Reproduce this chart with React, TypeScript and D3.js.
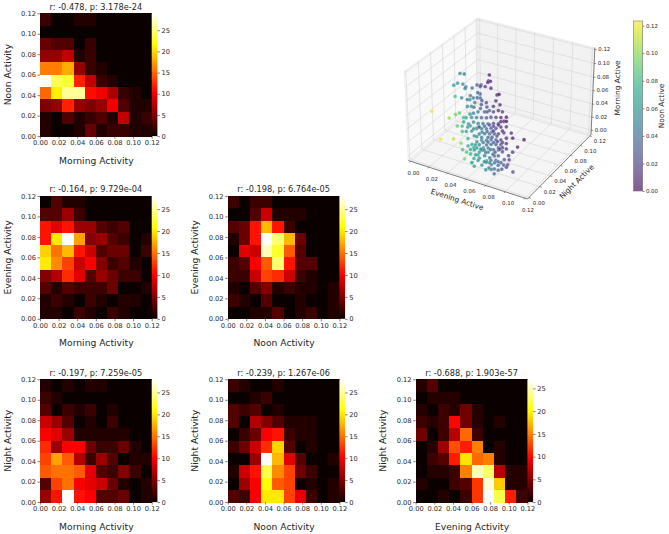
import React, { useEffect, useRef } from "react";
import * as d3 from "d3";

const tickValues = [0, 0.02, 0.04, 0.06, 0.08, 0.1, 0.12];
const countTicks = [0, 5, 10, 15, 20, 25];
const binCount = 10;
const axisMax = 0.12;

const titles = [
  "r: -0.478, p: 3.178e-24",
  "r: -0.164, p: 9.729e-04",
  "r: -0.198, p: 6.764e-05",
  "r: -0.197, p: 7.259e-05",
  "r: -0.239, p: 1.267e-06",
  "r: -0.688, p: 1.903e-57",
];
const xLabels = ["Morning Activity", "Morning Activity", "Noon Activity", "Morning Activity", "Noon Activity", "Evening Activity"];
const yLabels = ["Noon Activity", "Evening Activity", "Evening Activity", "Night Activity", "Night Activity", "Night Activity"];
const maxCounts = [29, 28, 28, 28, 28, 27];

// rows run from the top bin to the bottom bin
const morningNoon = [
  [2, 0, 0, 1, 1, 0, 0, 0, 0, 0],
  [0, 0, 0, 0, 0, 0, 0, 0, 0, 0],
  [4, 3, 3, 0, 2, 0, 0, 0, 0, 0],
  [6, 6, 8, 1, 2, 0, 0, 0, 0, 0],
  [16, 16, 18, 6, 2, 1, 0, 0, 0, 0],
  [29, 24, 23, 12, 8, 2, 1, 0, 0, 0],
  [15, 21, 26, 26, 11, 10, 7, 2, 1, 0],
  [5, 6, 12, 6, 5, 6, 10, 3, 1, 1],
  [1, 0, 3, 1, 2, 3, 1, 8, 1, 2],
  [1, 0, 0, 1, 4, 1, 2, 2, 1, 1],
];
const morningEvening = [
  [0, 3, 1, 1, 0, 0, 0, 0, 0, 0],
  [3, 3, 6, 2, 0, 0, 0, 0, 0, 0],
  [11, 9, 11, 6, 6, 3, 2, 3, 0, 0],
  [11, 20, 28, 17, 5, 6, 3, 2, 0, 1],
  [19, 15, 18, 11, 8, 3, 4, 4, 0, 2],
  [20, 16, 13, 8, 10, 5, 2, 3, 1, 0],
  [5, 7, 12, 9, 3, 6, 4, 2, 2, 0],
  [3, 1, 3, 2, 2, 2, 4, 0, 0, 1],
  [1, 2, 1, 0, 2, 1, 0, 1, 1, 0],
  [1, 1, 0, 2, 1, 0, 2, 1, 0, 0],
];
const noonEvening = [
  [2, 0, 2, 2, 0, 0, 0, 0, 0, 0],
  [0, 0, 3, 8, 1, 1, 1, 0, 0, 0],
  [3, 4, 11, 18, 11, 2, 0, 0, 0, 0],
  [1, 4, 11, 28, 24, 18, 4, 0, 0, 0],
  [0, 9, 8, 26, 22, 14, 3, 0, 0, 0],
  [2, 3, 10, 14, 24, 11, 3, 3, 0, 0],
  [2, 2, 8, 13, 12, 8, 2, 1, 0, 0],
  [1, 0, 3, 5, 1, 2, 1, 1, 0, 1],
  [2, 1, 0, 3, 0, 0, 1, 0, 0, 1],
  [0, 0, 1, 1, 3, 0, 1, 2, 0, 1],
];
const morningNight = [
  [1, 0, 1, 0, 1, 1, 0, 0, 0, 0],
  [2, 1, 0, 0, 0, 0, 0, 0, 0, 0],
  [3, 0, 2, 1, 2, 0, 1, 0, 0, 0],
  [8, 6, 3, 0, 1, 0, 2, 0, 0, 0],
  [10, 9, 6, 1, 1, 1, 1, 1, 0, 0],
  [12, 6, 10, 10, 4, 2, 2, 4, 1, 0],
  [13, 17, 14, 7, 2, 6, 3, 0, 1, 1],
  [14, 15, 15, 14, 9, 3, 2, 5, 2, 0],
  [3, 13, 15, 10, 9, 8, 4, 1, 0, 1],
  [6, 11, 28, 11, 10, 3, 3, 4, 0, 1],
];
const noonNight = [
  [2, 1, 0, 0, 1, 0, 0, 0, 0, 0],
  [0, 0, 1, 2, 0, 0, 0, 0, 0, 0],
  [3, 2, 3, 0, 1, 0, 0, 0, 0, 0],
  [3, 0, 7, 5, 3, 1, 1, 1, 0, 0],
  [0, 2, 4, 10, 11, 2, 1, 1, 0, 0],
  [2, 4, 8, 12, 19, 3, 0, 1, 0, 0],
  [0, 0, 6, 28, 18, 9, 3, 0, 0, 1],
  [1, 8, 11, 23, 16, 13, 4, 2, 0, 0],
  [0, 6, 10, 21, 14, 13, 0, 1, 0, 1],
  [3, 2, 10, 20, 20, 13, 9, 2, 0, 1],
];
const eveningNight = [
  [1, 3, 0, 0, 0, 0, 0, 0, 0, 0],
  [0, 1, 1, 1, 0, 0, 0, 0, 0, 0],
  [1, 0, 2, 1, 4, 1, 0, 0, 0, 0],
  [2, 1, 2, 10, 4, 1, 0, 1, 0, 0],
  [4, 0, 2, 7, 14, 2, 0, 0, 0, 0],
  [0, 1, 6, 13, 11, 15, 0, 1, 0, 0],
  [0, 2, 3, 11, 19, 14, 15, 1, 0, 0],
  [0, 1, 1, 2, 15, 25, 23, 7, 1, 1],
  [1, 0, 0, 2, 3, 12, 26, 18, 1, 1],
  [0, 0, 1, 0, 2, 12, 27, 22, 11, 2],
];
const heatmaps = [morningNoon, morningEvening, noonEvening, morningNight, noonNight, eveningNight];

// scatter values, in thousandths
const eveningActive = [
  16, 20, 41, 46, 48, 47, 24, 29, 23, 34, 35, 40, 41, 44, 45, 49, 55, 52, 49, 46,
  66, 67, 35, 40, 46, 44, 49, 52, 54, 50, 55, 59, 66, 17, 30, 35, 38, 41, 44, 47,
  49, 71, 64, 64, 59, 54, 57, 23, 33, 39, 45, 88, 83, 94, 78, 74, 74, 77, 84, 83,
  81, 75, 71, 64, 52, 47, 43, 41,
  46, 49, 81, 77, 85, 77, 81, 77, 77, 71, 64,
  56, 52, 64, 71, 66, 58, 49, 55, 60, 64, 69, 71, 68, 74, 70, 66, 62, 59, 53, 51,
  55, 59, 62, 66, 70, 74, 49, 53, 57, 61, 65, 68, 72, 47, 51, 55, 59, 62, 66, 70,
  45, 49, 52, 56, 60, 64, 68, 72, 51, 55, 59, 62, 66, 70,
  56, 60, 64, 67, 71, 51, 55, 60, 63, 67, 71, 53, 57, 61, 64, 68, 56, 60, 64, 68, 71,
  53, 57, 68, 72, 65, 51, 54, 44, 43, 46, 49, 52, 61, 68, 46, 40, 36, 74, 69, 43, 54, 59,
  50, 54, 58, 62, 65, 69, 55, 59, 63, 46, 50, 44, 40, 57, 63, 67, 74, 81, 72, 53,
  64, 49, 44, 59, 55, 47, 40, 70, 74, 79, 79,
];
const nightActive = [
  60, 61, 71, 61, 61, 58, 43, 44, 38, 41, 38, 42, 49, 51, 48, 50, 50, 36, 37, 29,
  42, 44, 21, 24, 28, 27, 29, 31, 33, 30, 34, 35, 40, 10, 18, 21, 23, 25, 27, 29,
  30, 43, 39, 39, 36, 33, 35, 14, 20, 23, 19, 53, 50, 22, 47, 45, 45, 44, 30, 21,
  11, 16, 13, 18, 24, 29, 26, 25,
  28, 29, 18, 30, 26, 36, 38, 25, 18, 23, 26,
  27, 31, 32, 31, 37, 33, 30, 33, 36, 39, 39, 43, 41, 45, 42, 40, 38, 35, 32, 31,
  33, 35, 38, 40, 42, 45, 30, 32, 35, 37, 39, 41, 44, 29, 31, 33, 35, 38, 40, 42,
  27, 29, 32, 34, 36, 39, 41, 44, 31, 33, 35, 38, 40, 42,
  34, 36, 39, 41, 43, 31, 34, 36, 38, 40, 43, 32, 35, 37, 39, 41, 34, 36, 38, 41, 43,
  32, 34, 25, 27, 24, 31, 17, 27, 26, 28, 29, 32, 37, 41, 28, 24, 22, 45, 42, 26, 17, 13,
  30, 33, 35, 37, 40, 42, 33, 36, 38, 28, 30, 27, 24, 23, 24, 29, 30, 28, 17, 32,
  39, 29, 27, 36, 33, 29, 24, 42, 45, 48, 48,
];
const morningActive = [
  86, 86, 86, 86, 86, 86, 86, 86, 86, 86, 86, 86, 86, 86, 86, 86, 86, 86, 86, 86,
  86, 86, 86, 84, 81, 81, 84, 84, 83, 77, 79, 77, 79, 65, 55, 60, 62, 55, 71, 71,
  70, 63, 71, 63, 70, 68, 63, 24, 24, 18, 0, 22, 11, 0, 32, 41, 8, 0, 0, 0,
  0, 0, 0, 0, 0, 15, 35, 49,
  43, 11, 0, 0, 0, 0, 0, 0, 0, 0, 0,
  0, 0, 0, 0, 0, 0, 7, 7, 4, 7, 0, 4, 7, 16, 15, 15, 15, 15, 15, 19,
  22, 22, 22, 22, 22, 24, 28, 31, 31, 31, 31, 31, 32, 35, 39, 39, 39, 39, 39, 41,
  46, 49, 46, 46, 46, 46, 46, 49, 55, 55, 55, 55, 55, 55,
  18, 19, 18, 19, 18, 27, 33, 26, 34, 28, 35, 42, 42, 44, 42, 44, 10, 10, 1, 10, 10,
  4, 7, 0, 0, 0, 10, 0, 24, 55, 60, 62, 63, 65, 65, 1, 35, 43, 55, 73, 4, 0, 0,
  15, 8, 3, 8, 3, 8, 26, 34, 26, 8, 0, 13, 8, 0, 0, 0, 0, 0, 0, 41,
  35, 39, 41, 63, 74, 55, 43, 49, 49, 24, 3,
];
const noonActive = [
  52, 45, 7, 10, 8, 12, 58, 50, 66, 48, 50, 40, 31, 25, 25, 18, 13, 30, 35, 45,
  5, 3, 85, 58, 49, 52, 42, 36, 32, 41, 30, 25, 10, 120, 105, 95, 90, 80, 55, 50,
  46, 14, 16, 20, 26, 36, 32, 120, 112, 100, 95, 1, 5, 25, 10, 12, 18, 20, 22, 30,
  42, 45, 55, 61, 70, 67, 67, 68,
  60, 65, 38, 30, 25, 25, 18, 34, 40, 46, 52,
  61, 62, 45, 37, 38, 52, 65, 54, 45, 36, 30, 22, 28, 15, 22, 30, 37, 44, 55, 58,
  49, 41, 34, 27, 19, 11, 58, 50, 42, 35, 27, 20, 12, 60, 52, 44, 36, 29, 22, 13,
  62, 53, 46, 38, 31, 23, 16, 6, 46, 39, 31, 24, 16, 9,
  46, 38, 32, 24, 18, 55, 45, 38, 30, 24, 14, 46, 38, 30, 24, 14, 52, 44, 36, 28, 20,
  62, 52, 50, 42, 55, 62, 66, 72, 70, 62, 52, 44, 26, 10, 75, 85, 90, 5, 8, 85, 82, 68,
  60, 54, 50, 42, 35, 28, 46, 36, 30, 70, 68, 72, 82, 62, 55, 46, 36, 28, 46, 45,
  24, 55, 64, 30, 28, 55, 80, 10, 3, 8, 15,
];

const FONT = "'DejaVu Sans', sans-serif";
const TEXT = "#262626";
const fmt = d3.format(".2f");

const hot = d3
  .scaleLinear<string>()
  .domain([0, 0.365, 0.746, 1])
  .range(["#0b0000", "#ff0000", "#ffff00", "#ffffff"])
  .clamp(true);

const PANEL_W = 111.7;
const PANEL_H = 122.8;
const panelOrigin = [
  [40, 13.3],
  [40, 196],
  [227.7, 196],
  [40, 379.3],
  [227.7, 379.3],
  [415.7, 379.3],
];

function Axis({ scale, orient, values, format, x, y, size = 6.7, len = 2.5 }: any) {
  const ref = useRef<SVGGElement>(null);
  useEffect(() => {
    const make = orient === "bottom" ? d3.axisBottom : orient === "left" ? d3.axisLeft : d3.axisRight;
    const axis = make(scale).tickValues(values).tickFormat(format).tickSize(len).tickPadding(1.6);
    const g = d3.select(ref.current);
    g.call(axis as any);
    g.select(".domain").remove();
    g.selectAll("line").attr("stroke", TEXT).attr("stroke-width", 0.6);
    g.selectAll("text").attr("fill", TEXT).style("font-family", FONT).style("font-size", `${size}px`);
  }, []);
  return <g ref={ref} transform={`translate(${x},${y})`} />;
}

function Heat({ index }: { index: number }) {
  const [px, py] = panelOrigin[index];
  const counts = heatmaps[index];
  const vmax = maxCounts[index];
  const xs = d3.scaleLinear().domain([0, axisMax]).range([0, PANEL_W]);
  const ys = d3.scaleLinear().domain([0, axisMax]).range([PANEL_H, 0]);
  const cs = d3.scaleLinear().domain([0, vmax]).range([PANEL_H, 0]);
  const bin = axisMax / binCount;
  const gid = `cbar${index}`;
  return (
    <g transform={`translate(${px},${py})`}>
      <defs>
        <linearGradient id={gid} x1="0" y1="1" x2="0" y2="0">
          {d3.range(0, 1.001, 0.05).map((t) => (
            <stop key={t} offset={t} stopColor={hot(t)} />
          ))}
        </linearGradient>
      </defs>
      <g style={{ filter: "blur(0.35px)" }} shapeRendering="crispEdges">
        {counts.map((row, r) =>
          row.map((c, k) => (
            <rect
              key={`${r}-${k}`}
              x={xs(k * bin)}
              y={ys(axisMax - r * bin)}
              width={xs(bin) + 0.6}
              height={ys(axisMax - bin) + 0.6}
              fill={hot(c / vmax)}
            />
          ))
        )}
      </g>
      <rect x={PANEL_W} y={0} width={5.7} height={PANEL_H} fill={`url(#${gid})`} />
      <Axis scale={xs} orient="bottom" values={tickValues} format={fmt} x={0} y={PANEL_H} />
      <Axis scale={ys} orient="left" values={tickValues} format={fmt} x={0} y={0} />
      <Axis scale={cs} orient="right" values={countTicks} format={d3.format("d")} x={PANEL_W + 5.7} y={0} />
      <text x={PANEL_W / 2} y={-3.6} textAnchor="middle" fontSize={8.2} fontFamily={FONT} fill={TEXT}>
        {titles[index]}
      </text>
      <text x={PANEL_W / 2 + 0.5} y={27.5 + PANEL_H} textAnchor="middle" fontSize={9.2} fontFamily={FONT} fill={TEXT}>
        {xLabels[index]}
      </text>
      <text
        transform={`translate(-29.5,${PANEL_H / 2}) rotate(-90)`}
        textAnchor="middle"
        fontSize={9.2}
        fontFamily={FONT}
        fill={TEXT}
      >
        {yLabels[index]}
      </text>
    </g>
  );
}

// mplot3d style camera
const ELEV = (30 * Math.PI) / 180;
const AZIM = (-60 * Math.PI) / 180;
const EYE_DIST = 10;
const BOX = [1.1429, 1.1429, 0.8572];
const XLIM = [-0.0025, 0.1225];
const YLIM = [-0.0025, 0.1225];
const ZLIM = [-0.007, 0.1225];

type V3 = [number, number, number];
const dot = (a: V3, b: V3) => a[0] * b[0] + a[1] * b[1] + a[2] * b[2];
const cross = (a: V3, b: V3): V3 => [a[1] * b[2] - a[2] * b[1], a[2] * b[0] - a[0] * b[2], a[0] * b[1] - a[1] * b[0]];
const unit = (a: V3): V3 => {
  const n = Math.hypot(...a);
  return [a[0] / n, a[1] / n, a[2] / n];
};
const center: V3 = [BOX[0] / 2, BOX[1] / 2, BOX[2] / 2];
const viewDir: V3 = [Math.cos(ELEV) * Math.cos(AZIM), Math.cos(ELEV) * Math.sin(AZIM), Math.sin(ELEV)];
const eye: V3 = [center[0] + EYE_DIST * viewDir[0], center[1] + EYE_DIST * viewDir[1], center[2] + EYE_DIST * viewDir[2]];
const camW = unit(viewDir);
const camU = unit(cross([0, 0, 1], camW));
const camV = cross(camW, camU);
const sx3 = d3.scaleLinear().domain(XLIM).range([0, BOX[0]]);
const sy3 = d3.scaleLinear().domain(YLIM).range([0, BOX[1]]);
const sz3 = d3.scaleLinear().domain(ZLIM).range([0, BOX[2]]);
function rawProject(x: number, y: number, z: number): [number, number] {
  const p: V3 = [sx3(x) - eye[0], sy3(y) - eye[1], sz3(z) - eye[2]];
  const w = dot(camW, p);
  return [dot(camU, p) / -w, dot(camV, p) / -w];
}
const uLeft = rawProject(XLIM[0], YLIM[0], ZLIM[0])[0];
const uRight = rawProject(XLIM[1], YLIM[1], ZLIM[0])[0];
const vTop = rawProject(XLIM[0], YLIM[1], ZLIM[1])[1];
const vBottom = rawProject(XLIM[1], YLIM[0], ZLIM[0])[1];
const pixelX = d3.scaleLinear().domain([uLeft, uRight]).range([408.3, 591]);
const pixelY = d3.scaleLinear().domain([vTop, vBottom]).range([18, 199]);
function proj(x: number, y: number, z: number): [number, number] {
  const [u, v] = rawProject(x, y, z);
  return [pixelX(u), pixelY(v)];
}
const polyline = (pts: [number, number][]) => pts.map((p) => p.join(",")).join(" ");

const viridisStops = d3.range(0, 1.001, 0.05);
const noonColor = d3.scaleSequential(d3.interpolateViridis).domain([0, 0.1234]);

function Scatter3D() {
  const [x0, x1] = XLIM;
  const [y0, y1] = YLIM;
  const [z0, z1] = ZLIM;
  const pane = (pts: [number, number, number][], fill: string) => (
    <polygon points={polyline(pts.map((p) => proj(p[0], p[1], p[2])))} fill={fill} stroke="#dcdcdc" strokeWidth={0.4} />
  );
  const line = (a: V3, b: V3, key: string, stroke = "#d4d4d4", w = 0.6) => {
    const [ax, ay] = proj(a[0], a[1], a[2]);
    const [bx, by] = proj(b[0], b[1], b[2]);
    return <line key={key} x1={ax} y1={ay} x2={bx} y2={by} stroke={stroke} strokeWidth={w} />;
  };
  const tickStyle = { fontSize: 5.4, fontFamily: FONT, fill: TEXT, textAnchor: "middle" as const, dominantBaseline: "middle" as const };
  return (
    <g>
      {pane([[x0, y0, z0], [x0, y1, z0], [x0, y1, z1], [x0, y0, z1]], "#f9f9f9")}
      {pane([[x0, y1, z0], [x1, y1, z0], [x1, y1, z1], [x0, y1, z1]], "#f2f2f2")}
      {pane([[x0, y0, z0], [x1, y0, z0], [x1, y1, z0], [x0, y1, z0]], "#f5f5f5")}
      {tickValues.map((t, i) => (
        <g key={i}>
          {line([t, y0, z0], [t, y1, z0], `a${i}`)}
          {line([t, y1, z0], [t, y1, z1], `b${i}`)}
          {line([x0, t, z0], [x1, t, z0], `c${i}`)}
          {line([x0, t, z0], [x0, t, z1], `d${i}`)}
          {line([x0, y1, t], [x1, y1, t], `e${i}`)}
          {line([x0, y0, t], [x0, y1, t], `f${i}`)}
        </g>
      ))}
      {line([x0, y0, z0], [x1, y0, z0], "ax", "#333", 0.6)}
      {line([x1, y0, z0], [x1, y1, z0], "ay", "#333", 0.6)}
      {line([x1, y1, z0], [x1, y1, z1], "az", "#333", 0.6)}
      {eveningActive.map((e, i) => {
        const [cx, cy] = proj(e / 1000, nightActive[i] / 1000, morningActive[i] / 1000);
        return (
          <circle
            key={i}
            cx={cx}
            cy={cy}
            r={1.9}
            fill={noonColor(noonActive[i] / 1000)}
            fillOpacity={0.72}
            stroke="#fff"
            strokeOpacity={0.55}
            strokeWidth={0.4}
          />
        );
      })}
      {tickValues.map((t) => {
        const [ax, ay] = proj(t, y0, z0);
        const [bx, by] = proj(x1, t, z0);
        const [cx, cy] = proj(x1, y1, t);
        return (
          <g key={t}>
            <line x1={ax} y1={ay} x2={ax - 1.3} y2={ay + 1.3} stroke="#333" strokeWidth={0.5} />
            <line x1={bx} y1={by} x2={bx + 2} y2={by + 0.7} stroke="#333" strokeWidth={0.5} />
            <line x1={cx} y1={cy} x2={cx + 2} y2={cy + 0.3} stroke="#333" strokeWidth={0.5} />
            <text x={ax + 3} y={ay + 12} {...tickStyle}>{fmt(t)}</text>
            <text x={bx + 10} y={by + 6} {...tickStyle}>{fmt(t)}</text>
            <text x={cx + 9.5} y={cy} {...tickStyle}>{fmt(t)}</text>
          </g>
        );
      })}
      <text transform="translate(457,200) rotate(18)" textAnchor="middle" dominantBaseline="middle" fontSize={7.4} fontFamily={FONT} fill={TEXT}>Evening Active</text>
      <text transform="translate(577,182) rotate(-45)" textAnchor="middle" dominantBaseline="middle" fontSize={7.4} fontFamily={FONT} fill={TEXT}>Night Active</text>
      <text transform="translate(618,88) rotate(-90)" textAnchor="middle" dominantBaseline="middle" fontSize={7.4} fontFamily={FONT} fill={TEXT}>Morning Active</text>
    </g>
  );
}

function NoonColorbar() {
  const ys = d3.scaleLinear().domain([0, 0.1234]).range([191, 21]);
  return (
    <g>
      <defs>
        <linearGradient id="noonbar" x1="0" y1="1" x2="0" y2="0">
          {viridisStops.map((t) => (
            <stop key={t} offset={t} stopColor={d3.interpolateViridis(t)} stopOpacity={0.65} />
          ))}
        </linearGradient>
      </defs>
      <rect x={633.5} y={21} width={9.2} height={170} fill="url(#noonbar)" stroke="#777" strokeWidth={0.6} />
      <Axis scale={ys} orient="right" values={tickValues} format={fmt} x={642.7} y={0} size={5.4} len={1.6} />
      <text transform="translate(661.5,106) rotate(-90)" textAnchor="middle" dominantBaseline="middle" fontSize={7.4} fontFamily={FONT} fill={TEXT}>Noon Active</text>
    </g>
  );
}

export default function App() {
  return (
    <svg width={669} height={534} style={{ position: "absolute", left: 0, top: 0, background: "#fff" }}>
      {heatmaps.map((_, i) => (
        <Heat key={i} index={i} />
      ))}
      <Scatter3D />
      <NoonColorbar />
    </svg>
  );
}
